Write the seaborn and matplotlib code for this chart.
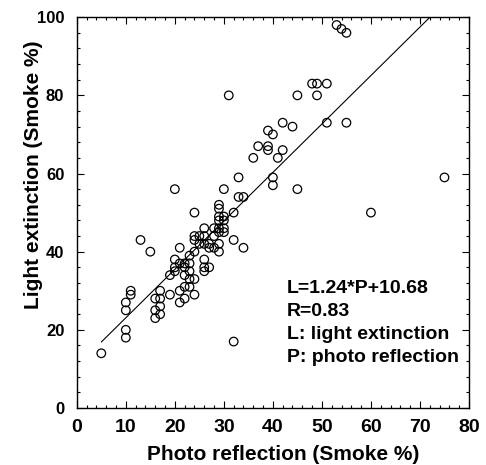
import numpy as np
import pandas as pd
import seaborn as sns
import matplotlib.pyplot as plt
from matplotlib.ticker import MultipleLocator

# values
photo = [5, 10, 10, 10, 10, 11, 11, 13, 15, 16, 16, 16, 17, 17, 17, 17,
         19, 19, 20, 20, 20, 20, 21, 21, 21, 21, 22, 22, 22, 22, 22,
         23, 23, 23, 23, 23, 24, 24, 24, 24, 24, 24, 25, 25,
         26, 26, 26, 26, 26, 26, 27, 27, 27, 28, 28, 28,
         29, 29, 29, 29, 29, 29, 29, 29, 30, 30, 30, 30, 30,
         31, 32, 32, 32, 33, 33, 34, 34,
         36, 37, 39, 39, 39, 40, 40, 40, 41,
         42, 42, 44, 45, 45, 48, 49, 49, 51, 51,
         53, 54, 55, 55, 60, 75]
light = [14, 18, 20, 25, 27, 29, 30, 43, 40, 23, 25, 28, 24, 26, 28, 30,
         29, 34, 56, 36, 38, 35, 27, 37, 41, 30, 28, 36, 37, 34, 31,
         31, 39, 35, 37, 33, 29, 33, 40, 43, 44, 50, 44, 42,
         35, 38, 42, 44, 46, 36, 36, 42, 41, 41, 44, 46,
         40, 42, 45, 46, 48, 49, 51, 52, 45, 46, 48, 49, 56,
         80, 17, 43, 50, 54, 59, 41, 54,
         64, 67, 66, 67, 71, 70, 57, 59, 64,
         66, 73, 72, 56, 80, 83, 80, 83, 73, 83,
         98, 97, 96, 73, 50, 59]

# fitted line as printed in the chart
slope, intercept = 1.24, 10.68
fit_range = [5, 72]

df = pd.DataFrame({"photo": photo, "light": light})
fit = pd.DataFrame({"photo": fit_range})
fit["light"] = slope * fit["photo"] + intercept

sns.set_style("ticks")
plt.rcParams['font.family'] = ['Liberation Sans', 'DejaVu Sans']
plt.rcParams['font.weight'] = 'bold'
plt.rcParams['text.color'] = 'black'
plt.rcParams['axes.labelcolor'] = 'black'
plt.rcParams['xtick.color'] = 'black'
plt.rcParams['ytick.color'] = 'black'

fig = plt.figure(figsize=(4.86, 4.65), dpi=100)
ax = fig.add_axes([0.158, 0.1226, 0.807, 0.8404])

sns.lineplot(data=fit, x="photo", y="light", color="black", linewidth=0.8, ax=ax)
sns.scatterplot(data=df, x="photo", y="light", s=38, facecolors="none",
                edgecolor="black", linewidth=0.9, ax=ax)

ax.set_xlim(0, 80)
ax.set_ylim(0, 100)
ax.xaxis.set_major_locator(MultipleLocator(10))
ax.xaxis.set_minor_locator(MultipleLocator(2))
ax.yaxis.set_major_locator(MultipleLocator(20))
ax.yaxis.set_minor_locator(MultipleLocator(4))
ax.tick_params(which="both", direction="in", top=True, right=True,
               width=0.8, color="black")
ax.tick_params(which="major", length=5)
ax.tick_params(which="minor", length=2.5)
ax.tick_params(axis="x", which="major", labelsize=14, pad=8)
ax.tick_params(axis="y", which="major", labelsize=12, pad=9)
for lab in ax.get_xticklabels() + ax.get_yticklabels():
    lab.set_fontweight("bold")
for sp in ax.spines.values():
    sp.set_linewidth(1.0)
    sp.set_color("black")

ax.set_xlabel("Photo reflection (Smoke %)", fontsize=15, fontweight="bold")
ax.set_ylabel("Light extinction (Smoke %)", fontsize=15, fontweight="bold")
ax.xaxis.set_label_coords(0.526, -0.095)
ax.yaxis.set_label_coords(-0.085, 0.596)

ax.text(42.8, 32.7, "L=1.24*P+10.68\nR=0.83\nL: light extinction\nP: photo reflection",
        fontsize=14, fontweight="bold", va="top", ha="left", linespacing=1.45)

fig.savefig("out.png", dpi=100)
